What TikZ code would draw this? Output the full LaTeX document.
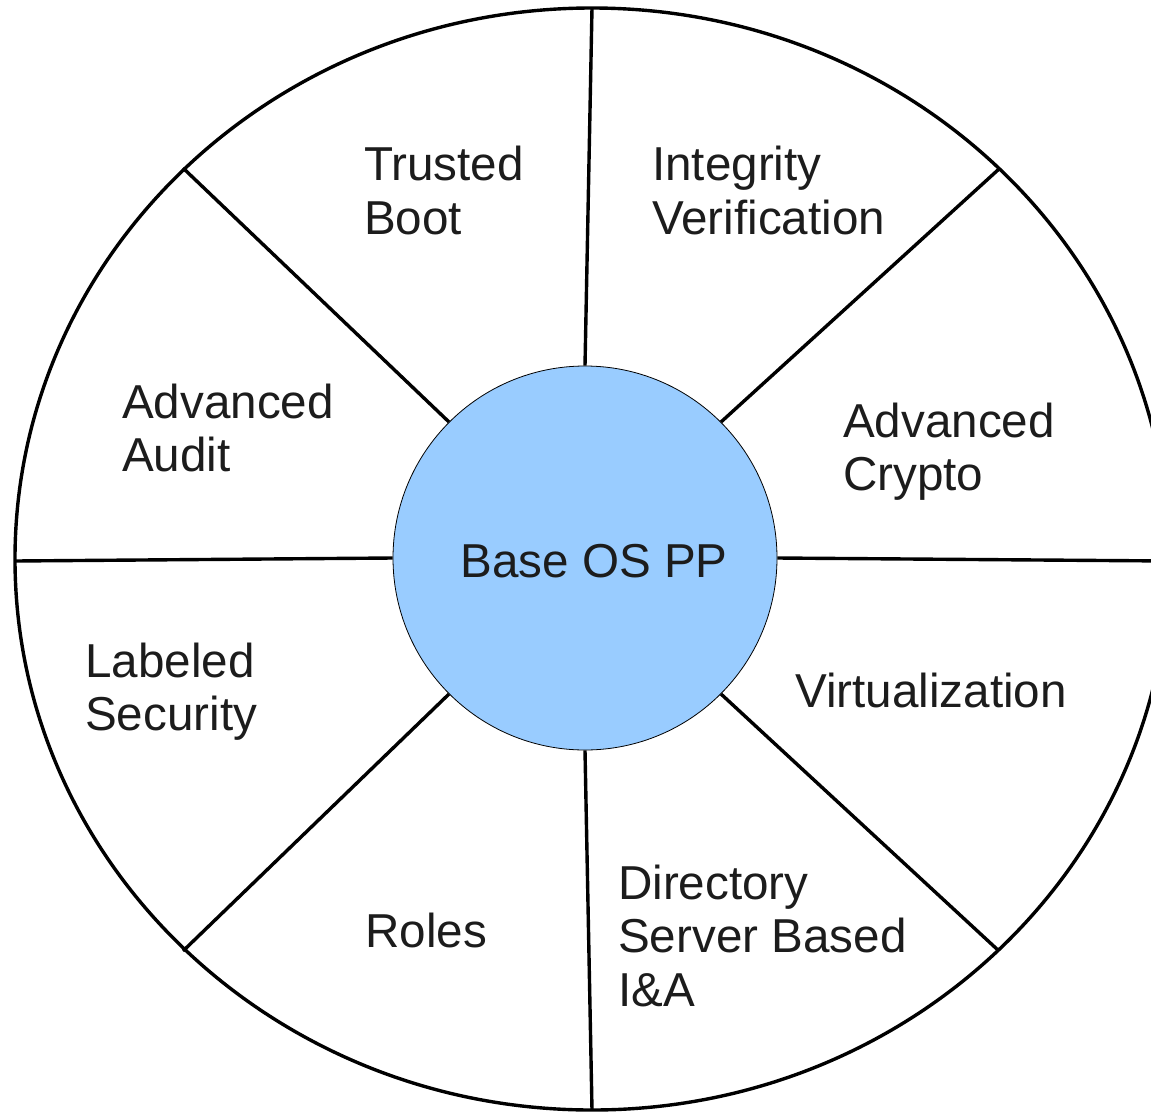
\documentclass[tikz,border=0pt]{standalone}
\usepackage{fontspec}
\setmainfont{Liberation Sans}
\usetikzlibrary{shapes.geometric}
\definecolor{corefill}{HTML}{99CCFF}
\definecolor{labelink}{HTML}{1C1C1C}
\begin{document}
\begin{tikzpicture}[x=1pt,y=-1pt,
  spoke/.style={line width=3.4pt,black},
  rimline/.style={line width=3.4pt,black},
  label/.style={anchor=base west,align=left,inner sep=0pt,text=labelink,
    font=\fontsize{47.6}{53.5}\selectfont},
  corelabel/.style={anchor=base,inner sep=0pt,text=labelink,
    font=\fontsize{47.6}{53.5}\selectfont}]
  \useasboundingbox (0,0) rectangle (1151,1111);
  \clip (0,0) rectangle (1151,1111);

  % outer ring
  \node[ellipse,draw,rimline,minimum width=1154pt,minimum height=1102pt,inner sep=0pt]
    (rim) at (592,559) {};

  % outer ends of the spokes
  \coordinate (oN)  at (592,8);
  \coordinate (oNE) at (999,169);
  \coordinate (oE)  at (1169,561);
  \coordinate (oSE) at (999,951);
  \coordinate (oS)  at (592,1110);
  \coordinate (oSW) at (183,951);
  \coordinate (oW)  at (15,561);
  \coordinate (oNW) at (183,168);

  % central circle
  \node[circle,draw=black,line width=0.8pt,fill=corefill,minimum size=384pt,inner sep=0pt]
    (core) at (585,558) {};

  % spokes
  \draw[spoke] (core.90)  -- (oN);
  \draw[spoke] (core.45)  -- (oNE);
  \draw[spoke] (core.0)   -- (oE);
  \draw[spoke] (core.-45) -- (oSE);
  \draw[spoke] (core.-90) -- (oS);
  \draw[spoke] (core.-135) -- (oSW);
  \draw[spoke] (core.180) -- (oW);
  \draw[spoke] (core.135) -- (oNW);

  % labels (multi-line labels are placed by the baseline of their last line)
  \node[corelabel] (tcore) at (594,577) {Base OS PP};
  \node[label] (tboot)  at (364,234)  {Trusted\\Boot};
  \node[label] (tinteg) at (652,234)  {Integrity\\Verification};
  \node[label] (taudit) at (122,471.5) {Advanced\\Audit};
  \node[label] (tcrypt) at (843,490.5) {Advanced\\Crypto};
  \node[label] (tlabel) at (85,730.5) {Labeled\\Security};
  \node[label] (tvirt)  at (795,707)  {Virtualization};
  \node[label] (troles) at (365,947)  {Roles};
  \node[label] (tdir)   at (618,1006) {Directory\\Server Based\\I\&A};
\end{tikzpicture}
\end{document}
